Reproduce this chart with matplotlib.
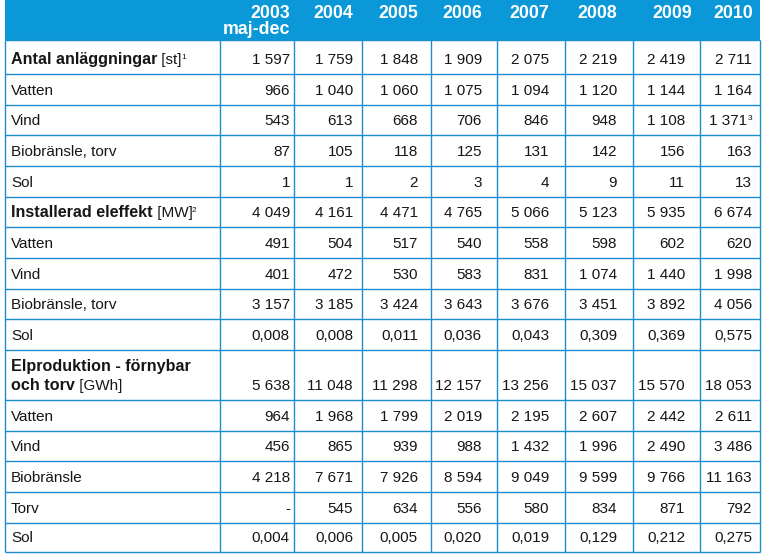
import matplotlib
matplotlib.use("Agg")
import matplotlib.pyplot as plt
from matplotlib.patches import Rectangle

plt.rcParams['font.family'] = ['Liberation Sans', 'DejaVu Sans']

# ---------------- data ----------------
years = ["2003", "2004", "2005", "2006", "2007", "2008", "2009", "2010"]
year_sub = ["maj-dec", "", "", "", "", "", "", ""]

antal_total = [1597, 1759, 1848, 1909, 2075, 2219, 2419, 2711]
antal_vatten = [966, 1040, 1060, 1075, 1094, 1120, 1144, 1164]
antal_vind = [543, 613, 668, 706, 846, 948, 1108, 1371]
antal_vind_notes = ["", "", "", "", "", "", "", "3"]
antal_bio = [87, 105, 118, 125, 131, 142, 156, 163]
antal_sol = [1, 1, 2, 3, 4, 9, 11, 13]

effekt_total = [4049, 4161, 4471, 4765, 5066, 5123, 5935, 6674]
effekt_vatten = [491, 504, 517, 540, 558, 598, 602, 620]
effekt_vind = [401, 472, 530, 583, 831, 1074, 1440, 1998]
effekt_bio = [3157, 3185, 3424, 3643, 3676, 3451, 3892, 4056]
effekt_sol = [0.008, 0.008, 0.011, 0.036, 0.043, 0.309, 0.369, 0.575]

prod_total = [5638, 11048, 11298, 12157, 13256, 15037, 15570, 18053]
prod_vatten = [964, 1968, 1799, 2019, 2195, 2607, 2442, 2611]
prod_vind = [456, 865, 939, 988, 1432, 1996, 2490, 3486]
prod_bio = [4218, 7671, 7926, 8594, 9049, 9599, 9766, 11163]
prod_torv = [None, 545, 634, 556, 580, 834, 871, 792]
prod_sol = [0.004, 0.006, 0.005, 0.020, 0.019, 0.129, 0.212, 0.275]

# row label: list of lines, each line a list of (text, style) where style in b/n/s
rows = [
    ([[("Antal anläggningar", "b"), (" [st]", "n"), ("1", "s")]], antal_total, None),
    ([[("Vatten", "n")]], antal_vatten, None),
    ([[("Vind", "n")]], antal_vind, antal_vind_notes),
    ([[("Biobränsle, torv", "n")]], antal_bio, None),
    ([[("Sol", "n")]], antal_sol, None),
    ([[("Installerad eleffekt", "b"), (" [MW]", "n"), ("2", "s")]], effekt_total, None),
    ([[("Vatten", "n")]], effekt_vatten, None),
    ([[("Vind", "n")]], effekt_vind, None),
    ([[("Biobränsle, torv", "n")]], effekt_bio, None),
    ([[("Sol", "n")]], effekt_sol, None),
    ([[("Elproduktion - förnybar", "b")], [("och torv", "b"), (" [GWh]", "n")]], prod_total, None),
    ([[("Vatten", "n")]], prod_vatten, None),
    ([[("Vind", "n")]], prod_vind, None),
    ([[("Biobränsle", "n")]], prod_bio, None),
    ([[("Torv", "n")]], prod_torv, None),
    ([[("Sol", "n")]], prod_sol, None),
]

# ---------------- layout ----------------
W, H = 766, 556
BLUE = "#0a98d8"
GRID = "#1a8ed0"
TXT = "#161616"
col_edges = [5, 220, 294, 362, 431, 497, 565, 633, 700, 760]
row_edges = [40, 74, 105, 135, 166, 197, 227, 258, 289, 319, 350, 400, 431, 461, 492, 523, 552]
val_right = [290, 353, 418, 482, 549, 617, 685, 752]
head_right = [290, 353, 418, 482, 549, 617, 692, 753]
FS = 11.0
FS_BOLD = 11.6
FS_HEAD = 12.8
FS_SUP = 6.0


def fmt(v):
    if v is None:
        return "-"
    if isinstance(v, float):
        return f"{v:.3f}".replace(".", ",")
    return f"{v:,}".replace(",", " ")


fig = plt.figure(figsize=(W / 100, H / 100), dpi=100)
ax = fig.add_axes([0, 0, 1, 1])
ax.set_xlim(0, W)
ax.set_ylim(H, 0)
ax.axis("off")
renderer = fig.canvas.get_renderer()

# header band
ax.add_patch(Rectangle((col_edges[0], 0), col_edges[-1] - col_edges[0], row_edges[0],
                       facecolor=BLUE, edgecolor="none", zorder=1))
for i, y in enumerate(years):
    ax.text(head_right[i], 17.5, y, ha="right", va="baseline", color="white",
            fontsize=FS_HEAD, fontweight="bold", zorder=3)
    if year_sub[i]:
        ax.text(head_right[i], 33.5, year_sub[i], ha="right", va="baseline", color="white",
                fontsize=FS_HEAD, fontweight="bold", zorder=3)

# grid
for x in col_edges:
    ax.plot([x, x], [row_edges[0], row_edges[-1]], color=GRID, lw=1.0, zorder=2,
            solid_capstyle="butt")
for y in row_edges:
    ax.plot([col_edges[0], col_edges[-1]], [y, y], color=GRID, lw=1.0, zorder=2,
            solid_capstyle="butt")


def draw_rich(x, y, parts):
    for text, style in parts:
        if style == "s":
            t = ax.text(x - 0.5, y - 5, text, fontsize=FS_SUP, color=TXT, va="baseline", ha="left")
        else:
            t = ax.text(x, y, text, fontsize=FS_BOLD if style == "b" else FS, color=TXT,
                        va="baseline", ha="left",
                        fontweight="bold" if style == "b" else "normal")
        bb = t.get_window_extent(renderer)
        x = x + bb.width


for r, (label, values, notes) in enumerate(rows):
    bottom = row_edges[r + 1]
    base = bottom - 9.8
    nlines = len(label)
    for li, line in enumerate(label):
        yb = base - (nlines - 1 - li) * 19
        draw_rich(11, yb, line)
    for c, v in enumerate(values):
        note = notes[c] if notes else ""
        if note:
            ax.text(val_right[c] - 5, base, fmt(v), fontsize=FS, color=TXT,
                    ha="right", va="baseline")
            ax.text(val_right[c] - 4.5, base - 5, note, fontsize=FS_SUP, color=TXT,
                    ha="left", va="baseline")
        else:
            ax.text(val_right[c], base, fmt(v), fontsize=FS, color=TXT,
                    ha="right", va="baseline")

fig.savefig("out.png", dpi=100)
